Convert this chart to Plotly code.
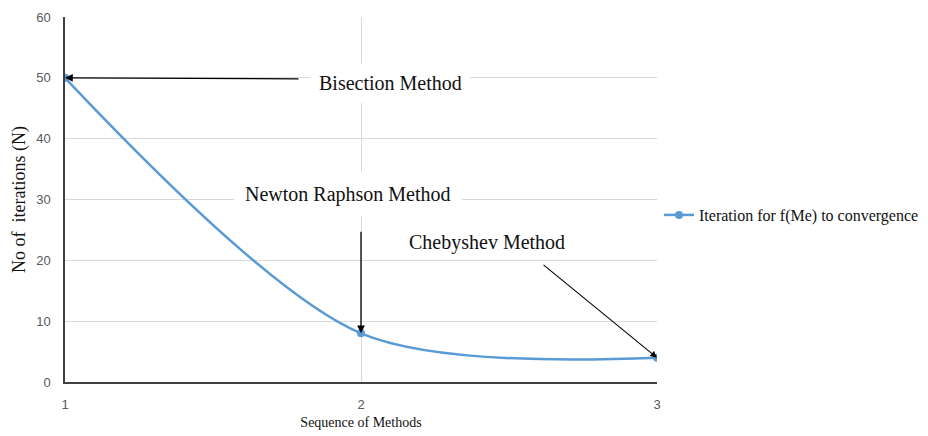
import plotly.graph_objects as go

methods = [1, 2, 3]
iterations = [50, 8, 4]
series_name = "Iteration for f(Me) to convergence"
labels = ["Bisection Method", "Newton Raphson Method", "Chebyshev Method"]

serif = "Liberation Serif"
fig = go.Figure()
fig.add_trace(go.Scatter(
    x=methods, y=iterations, mode="lines+markers", name=series_name,
    line=dict(color="#5b9bd5", width=2.5, shape="spline", smoothing=0.85),
    marker=dict(color="#5b9bd5", size=8),
))

# arrows
fig.add_annotation(x=methods[0], y=iterations[0], ax=235, ay=1, text="",
                   showarrow=True, arrowhead=2, arrowsize=1.2, arrowwidth=1.3, arrowcolor="#000")
fig.add_annotation(x=methods[1], y=iterations[1], ax=0, ay=-103, text="",
                   showarrow=True, arrowhead=2, arrowsize=1.2, arrowwidth=1.3, arrowcolor="#000")
fig.add_annotation(x=methods[2], y=iterations[2], ax=-115, ay=-94, text="",
                   showarrow=True, arrowhead=2, arrowsize=1.2, arrowwidth=1.1, arrowcolor="#000")

# text labels
fig.add_annotation(x=2.098, y=49.2, text=labels[0], showarrow=False,
                   font=dict(family=serif, size=20, color="#111"), bgcolor="white", borderpad=8)
fig.add_annotation(x=1.956, y=30.9, text=labels[1], showarrow=False,
                   font=dict(family=serif, size=20, color="#111"), bgcolor="white", borderpad=10)
fig.add_annotation(x=2.426, y=23.0, text=labels[2], showarrow=False,
                   font=dict(family=serif, size=20, color="#111"), bgcolor="white", borderpad=4)

fig.update_layout(
    width=928, height=436,
    margin=dict(l=65, r=271, t=17, b=54, autoexpand=False),
    paper_bgcolor="white", plot_bgcolor="white",
    showlegend=True,
    legend=dict(x=1.0034, y=0.4575, xanchor="left", yanchor="middle",
                font=dict(family=serif, size=16, color="#111"), bgcolor="rgba(0,0,0,0)"),
    xaxis=dict(range=[1, 3], tickvals=[1, 2, 3], showgrid=True, gridcolor="#d9d9d9",
               showline=True, linecolor="#404040", linewidth=1.5, zeroline=False,
               ticklabelstandoff=10, automargin=False,
               tickfont=dict(family="Liberation Sans", size=13, color="#595959"),
               title=dict(text="Sequence of Methods", font=dict(family=serif, size=14, color="#111"), standoff=6)),
    yaxis=dict(range=[0, 60], dtick=10, showgrid=True, gridcolor="#d9d9d9",
               showline=True, linecolor="#404040", linewidth=1.5, zeroline=False,
               ticklabelstandoff=10, automargin=False,
               tickfont=dict(family="Liberation Sans", size=13, color="#595959"),
               title=dict(text="No of  iterations (N)", font=dict(family=serif, size=18, color="#111"), standoff=6)),
)
fig.write_html("out.html")
